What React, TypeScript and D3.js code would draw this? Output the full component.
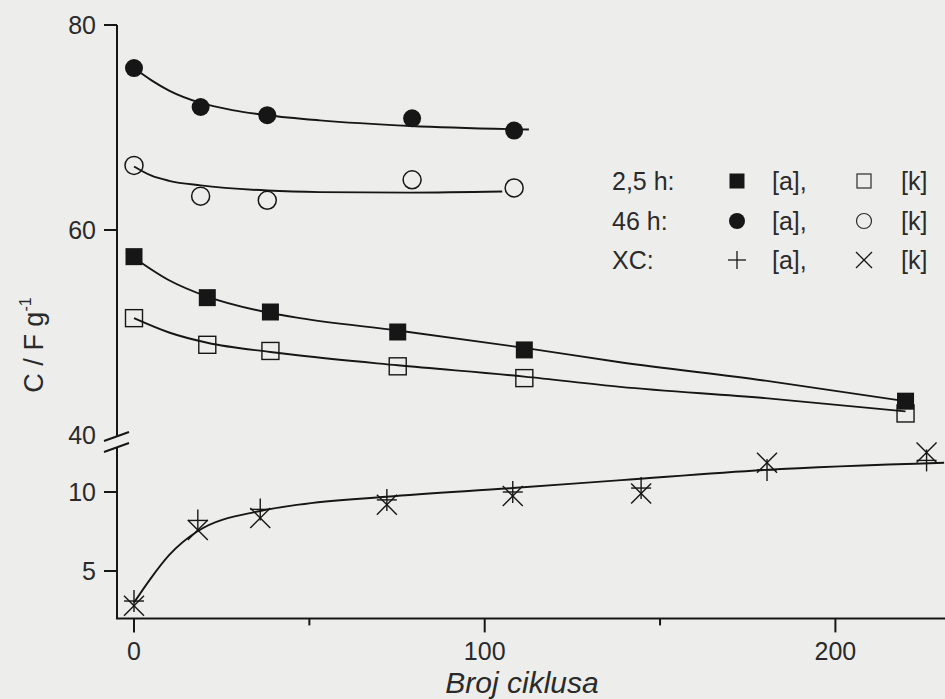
import React from 'react';
import * as d3 from 'd3';

// ---- data ----
const xTicksMajor = [0, 100, 200];
const xTicksMinor = [50, 150];
const yUpperTicks = [40, 60, 80];
const yLowerTicks = [5, 10];

// 2,5 h
const h25X = [0, 20.9, 38.9, 75.2, 111.3, 220];
const h25aY = [57.4, 53.4, 52.0, 50.05, 48.3, 43.3];
const h25kY = [51.4, 48.8, 48.2, 46.7, 45.55, 42.1];
// 46 h
const h46X = [0, 19, 38, 79.3, 108.4];
const h46aY = [75.8, 72.0, 71.2, 70.9, 69.7];
const h46kY = [66.3, 63.3, 62.9, 64.9, 64.1];
// XC
const xcX = [0, 18.2, 36, 72.1, 108, 144.6, 180.5, 226];
const xcAY = [3.1, 8.2, 8.9, 9.5, 10.0, 10.25, 11.4, 12.0];
const xcKY = [2.8, 7.6, 8.35, 9.2, 9.75, 9.9, 11.85, 12.5];

// fitted curves
const fit25aX = [0, 10, 20.9, 38.9, 47.3, 75.2, 111.3, 138.6, 180, 220];
const fit25aY = [57.3, 55.1, 53.5, 51.9, 51.4, 50.2, 48.5, 47.1, 45.3, 43.3];
const fit25kX = [0, 10, 20.9, 38.9, 47.3, 75.2, 111.3, 138.6, 180, 220];
const fit25kY = [51.4, 50.0, 49.0, 48.1, 47.75, 46.8, 45.7, 44.7, 43.6, 42.3];
const fit46aX = [0, 5, 10, 19, 28, 38, 53, 79, 112.6];
const fit46aY = [75.8, 74.6, 73.6, 72.4, 71.7, 71.2, 70.7, 70.15, 69.8];
const fit46kX = [0, 5, 10, 19, 38, 53, 79, 105];
const fit46kY = [66.2, 65.3, 64.8, 64.35, 63.85, 63.7, 63.65, 63.75];
const fitXcX = [0, 5, 10, 18, 36, 47, 72, 108, 139, 180, 231];
const fitXcY = [3.0, 4.6, 6.0, 7.5, 8.8, 9.2, 9.7, 10.25, 10.75, 11.4, 11.85];

const legendRows = ['2,5 h:', '46 h:', 'XC:'];
const legendA = '[a],';
const legendK = '[k]';

const W = 945;
const H = 699;
const INK = '#161616';
const TXT = '#2a2a2a';
const FONT = '"Liberation Sans", Arial, sans-serif';

export default function App() {
  const x = d3.scaleLinear().domain([0, 200]).range([134, 835.4]);
  const yU = d3.scaleLinear().domain([40, 80]).range([435, 25]);
  const yL = d3.scaleLinear().domain([5, 10]).range([571, 492]);

  const axisX = 117;
  const axisY = yL(2);
  const lowerTop = 447;
  const upperBottom = 437;

  const lineU = (xs: number[], ys: number[]) =>
    d3.line<number>().x((_, i) => x(xs[i])).y((d) => yU(d)).curve(d3.curveMonotoneX)(ys) || '';
  const lineL = (xs: number[], ys: number[]) =>
    d3.line<number>().x((_, i) => x(xs[i])).y((d) => yL(d)).curve(d3.curveMonotoneX)(ys) || '';

  const sq = 17;
  const r = 9;

  const plus = (cx: number, cy: number, hw: number, hh: number, sw: number, key: string) => (
    <g key={key} stroke={INK} strokeWidth={sw}>
      <line x1={cx - hw} x2={cx + hw} y1={cy} y2={cy} />
      <line x1={cx} x2={cx} y1={cy - hh} y2={cy + hh} />
    </g>
  );
  const cross = (cx: number, cy: number, h: number, sw: number, key: string) => (
    <g key={key} stroke={INK} strokeWidth={sw}>
      <line x1={cx - h} x2={cx + h} y1={cy - h} y2={cy + h} />
      <line x1={cx - h} x2={cx + h} y1={cy + h} y2={cy - h} />
    </g>
  );

  const legBase = [190, 230, 269];
  const legTextX = 612;
  const legSymA = 737;
  const legTxtA = 772;
  const legSymK = 864;
  const legTxtK = 901;

  return (
    <svg
      width={W}
      height={H}
      style={{ position: 'absolute', left: 0, top: 0, display: 'block' }}
      fontFamily={FONT}
    >
      <rect x={0} y={0} width={W} height={H} fill="#edeeec" />

      {/* axes */}
      <g stroke={INK} strokeWidth={2} fill="none">
        <line x1={axisX} x2={axisX} y1={yU(80)} y2={upperBottom} />
        <line x1={axisX} x2={axisX} y1={lowerTop} y2={axisY} />
        <line x1={axisX - 1} x2={W} y1={axisY} y2={axisY} />
        {/* break marks */}
        <line x1={104} y1={441} x2={129} y2={432} />
        <line x1={104} y1={452} x2={129} y2={443} />
        {yUpperTicks.filter((t) => t !== 40).map((t) => (
          <line key={'yu' + t} x1={axisX - 13} x2={axisX} y1={yU(t)} y2={yU(t)} />
        ))}
        {yLowerTicks.map((t) => (
          <line key={'yl' + t} x1={axisX - 13} x2={axisX} y1={yL(t)} y2={yL(t)} />
        ))}
        {xTicksMajor.map((t) => (
          <line key={'xM' + t} x1={x(t)} x2={x(t)} y1={axisY} y2={axisY + 14} />
        ))}
        {xTicksMinor.map((t) => (
          <line key={'xm' + t} x1={x(t)} x2={x(t)} y1={axisY} y2={axisY + 7} />
        ))}
      </g>

      {/* tick labels */}
      <g fill={TXT} fontSize={25}>
        {yUpperTicks.map((t) => (
          <text key={'lu' + t} x={96} y={yU(t) + 9} textAnchor="end">
            {t}
          </text>
        ))}
        {yLowerTicks.map((t) => (
          <text key={'ll' + t} x={96} y={yL(t) + 9} textAnchor="end">
            {t}
          </text>
        ))}
        {xTicksMajor.map((t) => (
          <text key={'lx' + t} x={x(t)} y={660} textAnchor="middle">
            {t}
          </text>
        ))}
      </g>

      {/* axis titles */}
      <text
        x={522}
        y={693}
        textAnchor="middle"
        fontSize={30}
        fontStyle="italic"
        fill={TXT}
      >
        Broj ciklusa
      </text>
      <text
        transform="translate(43,345) rotate(-90)"
        textAnchor="middle"
        fontSize={27}
        fill={TXT}
      >
        C / F g
        <tspan fontSize={16} dy={-12}>
          -1
        </tspan>
      </text>

      {/* fit curves */}
      <g fill="none" stroke={INK} strokeWidth={1.9}>
        <path d={lineU(fit46aX, fit46aY)} />
        <path d={lineU(fit46kX, fit46kY)} />
        <path d={lineU(fit25aX, fit25aY)} />
        <path d={lineU(fit25kX, fit25kY)} />
        <path d={lineL(fitXcX, fitXcY)} />
      </g>

      {/* 46 h markers */}
      {h46aY.map((v, i) => (
        <circle key={'c46a' + i} cx={x(h46X[i])} cy={yU(v)} r={r} fill={INK} />
      ))}
      {h46kY.map((v, i) => (
        <circle key={'c46k' + i} cx={x(h46X[i])} cy={yU(v)} r={r} fill="none" stroke={INK} strokeWidth={1.5} />
      ))}

      {/* 2,5 h markers (open first so filled sit on top) */}
      {h25kY.map((v, i) => (
        <rect
          key={'s25k' + i}
          x={x(h25X[i]) - sq / 2}
          y={yU(v) - sq / 2}
          width={sq}
          height={sq}
          fill="none"
          stroke={INK}
          strokeWidth={1.4}
        />
      ))}
      {h25aY.map((v, i) => (
        <rect key={'s25a' + i} x={x(h25X[i]) - sq / 2} y={yU(v) - sq / 2} width={sq} height={sq} fill={INK} />
      ))}

      {/* XC markers */}
      {xcAY.map((v, i) => plus(x(xcX[i]), yL(v), 10, 11, 1.4, 'xa' + i))}
      {xcKY.map((v, i) => cross(x(xcX[i]), yL(v), 10, 1.4, 'xk' + i))}

      {/* legend */}
      <g fill={TXT} fontSize={25}>
        {legendRows.map((t, i) => (
          <g key={'lg' + i}>
            <text x={legTextX} y={legBase[i]}>
              {t}
            </text>
            <text x={legTxtA} y={legBase[i]}>
              {legendA}
            </text>
            <text x={legTxtK} y={legBase[i]}>
              {legendK}
            </text>
          </g>
        ))}
      </g>
      {/* legend symbols */}
      <rect x={legSymA - 7.5} y={legBase[0] - 9 - 7.5} width={15} height={15} fill={INK} />
      <rect
        x={legSymK - 7}
        y={legBase[0] - 9 - 7}
        width={14}
        height={14}
        fill="none"
        stroke={TXT}
        strokeWidth={1.2}
      />
      <circle cx={legSymA} cy={legBase[1] - 9} r={8} fill={INK} />
      <circle cx={legSymK} cy={legBase[1] - 9} r={7.5} fill="none" stroke={TXT} strokeWidth={1.2} />
      {plus(legSymA, legBase[2] - 9, 9, 9, 1.3, 'lp')}
      {cross(legSymK, legBase[2] - 9, 8, 1.3, 'lx')}
    </svg>
  );
}
